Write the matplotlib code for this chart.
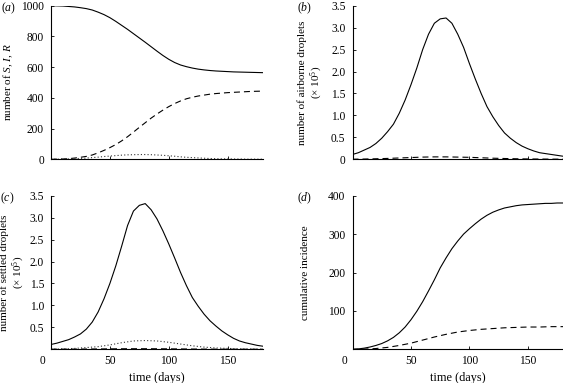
import matplotlib
matplotlib.use("Agg")
import matplotlib.pyplot as plt
import matplotlib.transforms as mtransforms

plt.rcParams['font.family'] = ['Liberation Serif', 'DejaVu Serif']
plt.rcParams['mathtext.fontset'] = 'custom'
plt.rcParams['mathtext.rm'] = 'Liberation Serif'
plt.rcParams['mathtext.it'] = 'Liberation Serif:italic'

# ---------------- data ----------------
t5 = list(range(0, 181, 5))
t10 = list(range(0, 181, 10))

# (a) S, I, R
S = [1000, 999, 998, 995, 992, 987, 981, 972, 958, 942, 922, 898, 872, 846, 818,
     790, 762, 733, 704, 676, 651, 630, 614, 603, 594, 587, 582, 578, 575, 573,
     571, 569, 568, 567, 566, 565, 564]
I = [1, 1, 2, 3, 4, 6, 8, 11, 14, 18, 21, 24, 27, 29, 30, 31, 31, 30, 28, 26, 23,
     20, 16, 13, 11, 9, 7, 5, 4, 3, 3, 2, 2, 1, 1, 1, 1]
R = [0, 1, 2, 4, 8, 13, 19, 28, 42, 58, 76, 96, 120, 147, 177, 208, 238, 268, 295,
     320, 343, 363, 380, 394, 404, 412, 418, 424, 428, 431, 434, 436, 438, 440, 442,
     443, 444]

# (b) airborne droplets (x 10^5)
air_solid = [0.11, 0.15, 0.21, 0.27, 0.36, 0.48, 0.63, 0.80, 1.05, 1.35, 1.70, 2.08,
             2.50, 2.85, 3.10, 3.20, 3.22, 3.10, 2.85, 2.55, 2.18, 1.83, 1.50, 1.20,
             0.97, 0.77, 0.60, 0.48, 0.38, 0.30, 0.24, 0.19, 0.15, 0.13, 0.11, 0.09,
             0.07]
air_dashed = [0.002, 0.006, 0.012, 0.02, 0.03, 0.04, 0.05, 0.055, 0.055, 0.05, 0.045,
              0.035, 0.025, 0.018, 0.012, 0.008, 0.006, 0.004, 0.003]

# (c) settled droplets (x 10^5)
set_solid = [0.11, 0.14, 0.18, 0.22, 0.28, 0.35, 0.46, 0.62, 0.85, 1.15, 1.50, 1.90,
             2.35, 2.82, 3.15, 3.28, 3.32, 3.18, 2.97, 2.70, 2.40, 2.08, 1.75, 1.45,
             1.18, 0.98, 0.80, 0.65, 0.53, 0.42, 0.33, 0.25, 0.19, 0.15, 0.12, 0.09,
             0.07]
set_dotted = [0.005, 0.01, 0.02, 0.04, 0.06, 0.10, 0.15, 0.19, 0.20, 0.19, 0.16, 0.12,
              0.08, 0.05, 0.03, 0.02, 0.01, 0.008, 0.005]
set_dashed = [0.002, 0.003, 0.004, 0.006, 0.008, 0.010, 0.012, 0.013, 0.013, 0.012,
              0.010, 0.008, 0.006, 0.004, 0.003, 0.002, 0.002, 0.001, 0.001]

# (d) cumulative incidence
cum_solid = [0, 1, 3, 6, 10, 15, 22, 31, 43, 58, 77, 99, 124, 152, 181, 212, 238, 262,
             282, 300, 314, 327, 339, 349, 357, 363, 368, 371, 374, 376, 377, 378, 379,
             380, 380, 381, 381]
cum_dashed = [0, 0.5, 2, 5, 10, 16, 24, 32, 39, 45, 49, 52, 54, 56, 57, 58, 58, 59, 59]

xticks = [0, 50, 100, 150]
xticklabels = ['0', '50', '100', '150']

# ---------------- figure ----------------
W, H = 563, 383
fig = plt.figure(figsize=(W / 100, H / 100), dpi=100)

def px_axes(x0, y0, x1, y1):
    return fig.add_axes([x0 / W, 1 - y1 / H, (x1 - x0) / W, (y1 - y0) / H])

axa = px_axes(51, 5.7, 263, 159.3)
axb = px_axes(352.5, 5.7, 563, 159.3)
axc = px_axes(51, 195.7, 263, 349.3)
axd = px_axes(352.5, 195.7, 563, 349.3)

FS = 8.3
LFS = 8
lw = 0.8
dash = (0, (5.4, 3.6))
dot = (0, (1, 2))

for ax in (axa, axb, axc, axd):
    for s in ('top', 'right'):
        ax.spines[s].set_visible(False)
    for s in ('left', 'bottom'):
        ax.spines[s].set_linewidth(0.8)
    ax.tick_params(direction='in', length=2.5, width=0.6, labelsize=FS)
    ax.tick_params(axis='y', pad=5)
    ax.tick_params(axis='x', pad=4)
    ax.set_xlim(0, 180)
    ax.set_xticks(xticks)

def ylab(ax, text, xpx, x0):
    ax.set_ylabel(text, fontsize=LFS, linespacing=1.15)
    ax.yaxis.label.set_va('center')
    ax.yaxis.set_label_coords((xpx - x0) / (ax.get_position().width * W), 0.5)

# (a)
axa.plot(t5, S, color='black', lw=lw)
axa.plot(t5, R, color='black', lw=lw, linestyle=dash)
axa.plot(t5, I, color='#333333', lw=lw, linestyle=dot)
axa.set_ylim(0, 1000)
axa.set_yticks([0, 200, 400, 600, 800, 1000])
axa.set_xticklabels([])
ylab(axa, 'number of $S$, $I$, $R$', 8.5, 51)

# (b)
axb.plot(t5, air_solid, color='black', lw=lw)
axb.plot(t10, air_dashed, color='black', lw=lw, linestyle=dash)
axb.set_ylim(0, 3.5)
axb.set_yticks([0, 0.5, 1.0, 1.5, 2.0, 2.5, 3.0, 3.5])
axb.set_yticklabels(['0', '0.5', '1.0', '1.5', '2.0', '2.5', '3.0', '3.5'])
axb.set_xticklabels([])
ylab(axb, 'number of airborne droplets\n(× 10$^5$)', 311.5, 352.5)

# (c)
axc.plot(t5, set_solid, color='black', lw=lw)
axc.plot(t10, set_dashed, color='black', lw=lw, linestyle=dash)
axc.plot(t10, set_dotted, color='#333333', lw=lw, linestyle=dot)
axc.set_ylim(0, 3.5)
axc.set_yticks([0.5, 1.0, 1.5, 2.0, 2.5, 3.0, 3.5])
axc.set_yticklabels(['0.5', '1.0', '1.5', '2.0', '2.5', '3.0', '3.5'])
axc.set_xticklabels(xticklabels)
ylab(axc, 'number of settled droplets\n(× 10$^5$)', 13, 51)
axc.set_xlabel('time (days)', fontsize=8.8)
axc.xaxis.set_label_coords(0.5, -0.145)

# (d)
axd.plot(t5, cum_solid, color='black', lw=lw)
axd.plot(t10, cum_dashed, color='black', lw=lw, linestyle=dash)
axd.set_ylim(0, 400)
axd.set_yticks([100, 200, 300, 400])
axd.set_xticklabels(xticklabels)
ylab(axd, 'cumulative incidence', 305.5, 352.5)
axd.set_xlabel('time (days)', fontsize=8.8)
axd.xaxis.set_label_coords(0.5, -0.145)

# shift the "0" x tick label left on bottom panels
off = mtransforms.ScaledTranslation(-8.5 / 100, 0, fig.dpi_scale_trans)
for ax in (axc, axd):
    lab = ax.get_xticklabels()[0]
    lab.set_transform(lab.get_transform() + off)

# panel labels
def plabel(x, y, letter):
    fig.text(x / W, 1 - y / H, '($' + letter + '$)', fontsize=8.5, va='center', ha='left')

plabel(1, 8, 'a')
plabel(297, 8, 'b')
plabel(0.5, 198, 'c')
plabel(297, 198, 'd')

fig.savefig('out.png', dpi=100)
